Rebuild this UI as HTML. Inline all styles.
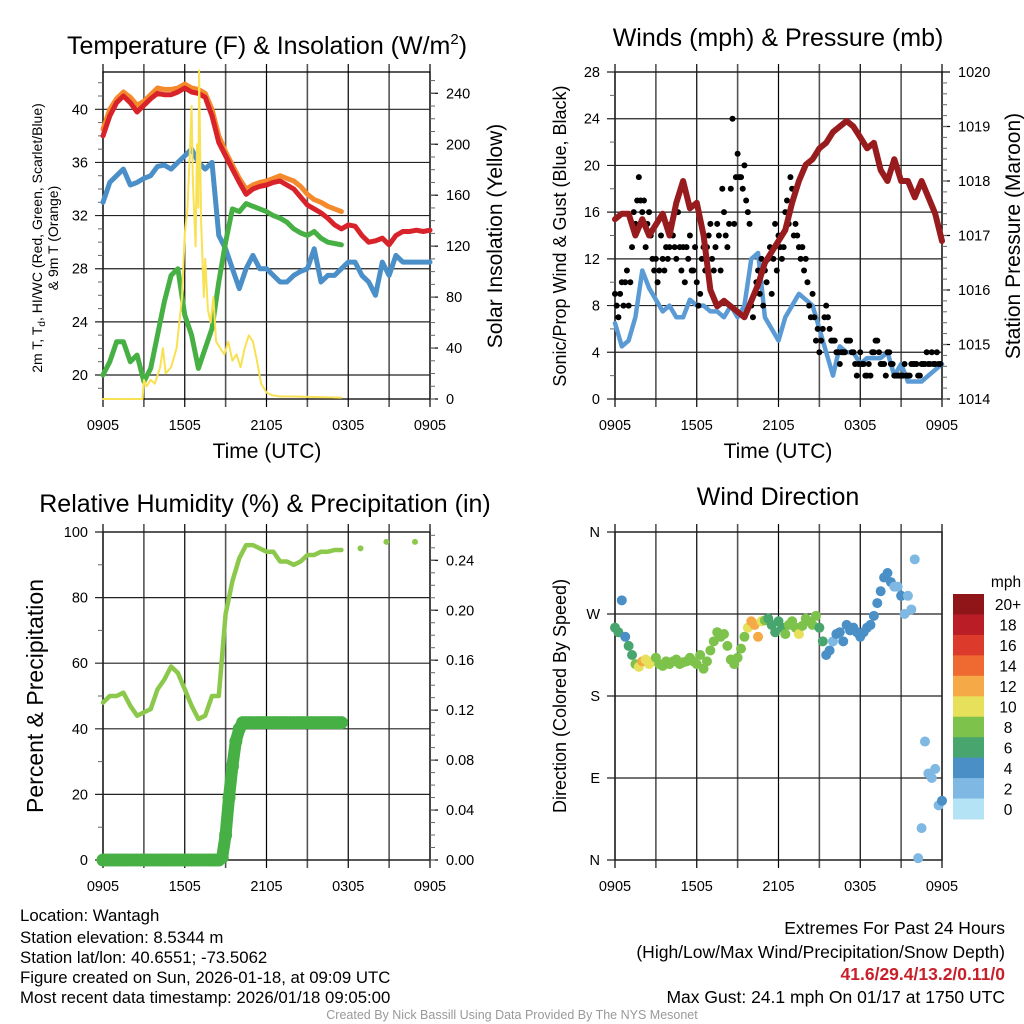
<!DOCTYPE html>
<html><head><meta charset="utf-8"><style>
html,body{margin:0;padding:0;background:#fff;}
svg{display:block;font-family:"Liberation Sans",sans-serif;}
</style></head><body>
<svg id="fig" width="1024" height="1024" viewBox="0 0 1024 1024" xmlns="http://www.w3.org/2000/svg">
<rect x="0" y="0" width="1024" height="1024" fill="#fff"/>
<text x="267" y="54" font-size="25" text-anchor="middle">Temperature (F) &amp; Insolation (W/m<tspan font-size="15" dy="-10">2</tspan><tspan dy="10">)</tspan></text>
<text x="778" y="46" font-size="25" text-anchor="middle">Winds (mph) &amp; Pressure (mb)</text>
<text x="265" y="512" font-size="25" text-anchor="middle">Relative Humidity (%) &amp; Precipitation (in)</text>
<text x="778" y="505" font-size="25" text-anchor="middle">Wind Direction</text>

<text x="267" y="458" font-size="21" text-anchor="middle">Time (UTC)</text>
<text x="778" y="458" font-size="21" text-anchor="middle">Time (UTC)</text>

<text transform="translate(42,238) rotate(-90)" font-size="14" text-anchor="middle">2m T, T<tspan font-size="10" dy="3">d</tspan><tspan dy="-3">, HI/WC (Red, Green, Scarlet/Blue)</tspan></text>
<text transform="translate(58,238) rotate(-90)" font-size="14" text-anchor="middle">&amp; 9m T (Orange)</text>
<text transform="translate(502,236) rotate(-90)" font-size="21" text-anchor="middle">Solar Insolation (Yellow)</text>
<text transform="translate(566,236) rotate(-90)" font-size="18" text-anchor="middle">Sonic/Prop Wind &amp; Gust (Blue, Black)</text>
<text transform="translate(1020,236) rotate(-90)" font-size="21" text-anchor="middle">Station Pressure (Maroon)</text>
<text transform="translate(43,696) rotate(-90)" font-size="23" text-anchor="middle">Percent &amp; Precipitation</text>
<text transform="translate(566,696) rotate(-90)" font-size="18" text-anchor="middle">Direction (Colored By Speed)</text>

<g font-size="16.8" fill="#000">
<text x="20" y="921">Location: Wantagh</text>
<text x="20" y="943">Station elevation: 8.5344 m</text>
<text x="20" y="963">Station lat/lon: 40.6551; -73.5062</text>
<text x="20" y="983">Figure created on Sun, 2026-01-18, at 09:09 UTC</text>
<text x="20" y="1003">Most recent data timestamp: 2026/01/18 09:05:00</text>
</g>
<g font-size="17.5" text-anchor="end">
<text x="1005" y="934">Extremes For Past 24 Hours</text>
<text x="1005" y="958">(High/Low/Max Wind/Precipitation/Snow Depth)</text>
<text x="1005" y="980" fill="#c8202a" font-weight="bold">41.6/29.4/13.2/0.11/0</text>
<text x="1005" y="1003">Max Gust: 24.1 mph On 01/17 at 1750 UTC</text>
</g>
<text x="512" y="1019" font-size="12.5" fill="#999" text-anchor="middle">Created By Nick Bassill Using Data Provided By The NYS Mesonet</text>
</svg>
<script>
// ---------- DATA ----------
const timeLabels = ["0905","1505","2105","0305","0905"];
// temperature panel (0.5 h step from 0905)
const tempRed = [38,39.5,40.5,41,40.5,39.8,40.3,40.8,41.2,41.1,41.1,41.3,41.6,41.3,41.2,40.9,39.5,37.5,36.5,35.5,34.5,33.6,34,34.2,34.3,34.5,34.6,34.3,34,33.4,32.8,32.5,32.2,31.8,31.3,31,31.3,31.2,30.5,30,30.1,30.3,29.8,30.5,30.8,30.8,30.9,30.8,30.9];
const tempOrange = [38.5,40,40.8,41.3,40.9,40.3,40.6,41.1,41.6,41.5,41.5,41.6,41.9,41.6,41.5,41.2,40,38,36.8,35.8,34.8,34,34.3,34.5,34.6,34.8,35,34.8,34.6,34.2,33.6,33.2,33,32.7,32.5,32.3];
const dewGreen = [20,21,22.5,22.5,21,21.5,19.5,20.5,23,25.5,27.5,28,24.5,23,20.5,22,23.5,27,30,32.5,32.3,32.9,32.7,32.5,32.3,32,31.8,31.5,31,30.7,30.5,30.8,30.3,30,29.9,29.8];
const chillBlue = [33,34.5,35,35.5,34.3,34.5,34.8,35,35.7,35.8,35.5,36,36.5,37,36,35.5,36,30.5,29.5,28,26.5,28,29,28,28,27.5,27,27,27.5,27.8,28,29.5,27,27.5,27.5,28,28.5,28.5,27.5,27,26,28.5,27.5,29,28.5,28.5,28.5,28.5,28.5];
const insolTimes = [0,2.9,3.0,3.2,3.5,3.8,4.2,4.4,4.6,5.0,5.4,5.6,5.8,6.0,6.2,6.4,6.5,6.6,6.8,6.9,7.0,7.05,7.2,7.4,7.5,7.7,7.9,8.1,8.3,8.6,8.9,9.2,9.5,9.8,10.1,10.4,10.7,11.0,11.3,11.6,12.0,12.4,13.0,14,17.5];
const insolValues = [0,0,15,10,15,12,25,40,20,25,40,60,80,130,150,200,230,170,120,200,150,258,140,80,110,70,60,80,45,40,35,45,30,35,25,40,50,45,30,12,5,3,2,2,1];
const tempTicks = [20,24,28,32,36,40];
const insolTicks = [0,40,80,120,160,200,240];
// wind panel
const windSpeed = [6.5,4.5,5,7,11,9.5,8.5,7.5,8,7,7,8.5,8,8,7.5,7.5,7,8,7,8,12,12.5,7,6,5,7,8,9,8.5,8,6,4,2,4.5,4,4,3,3.5,3.5,3.5,4,2,3,1.5,1.5,1.5,2,2.5,3];
const windGust = [9,8,7,9,10,8,10,11, 8,10,13,16,15,17,19,17, 16,17,13,15,16,14,12,11, 12,10,11,14,12,11,13,12, 13,15,14,13,12,16,13,11, 13,10,13,12,14,11,11,13, 10,8,9,12,13,11,13,14, 15,12,11,13,15,14,11,18, 16,14,13,15,18,24,15,19, 21,19,19,18,20,17,16,15, 8,7,9,10,11,9,12,8, 11,10,12,13,9,12,15,11, 14,13,12,13,16,17,15,19, 18,14,15,14,13,12,13,11, 12,10,8,7,9,7,5,6, 4,5,6,7,8,7,6,5, 5,5,4,4,3,4,4,4, 5,5,5,4,4,3,2,3, 4,3,3,2,2,3,2,4, 4,5,5,4,3,3,3,2, 4,4,3,3,2,2,2,2, 2,2,3,2,2,2,3,3, 3,3,2,2,3,3,3,4, 3,3,4,3,3,4,3,3];
const pressure = [1017.3,1017.4,1017.4,1017.0,1017.3,1017.0,1017.2,1017.4,1017.0,1017.6,1018.0,1017.5,1017.6,1017.0,1016.0,1015.7,1015.8,1015.7,1015.6,1015.5,1015.8,1016.1,1016.5,1016.7,1016.9,1017.1,1017.6,1018.0,1018.3,1018.4,1018.6,1018.7,1018.9,1019.0,1019.1,1019.0,1018.8,1018.6,1018.7,1018.2,1018.0,1018.4,1018.0,1018.0,1017.7,1018.0,1017.7,1017.4,1016.9];
const windTicks = [0,4,8,12,16,20,24,28];
const pressTicks = [1014,1015,1016,1017,1018,1019,1020];
// RH / precip panel
const rhValues = [48,50,50,51,47,44,45,46,52,55,59,57,52,47,43,44,50,50,75,85,92,96,96,95,94,94,91,91,90,91,93,93,94,94,94.5,94.5];
const rhDotTimes = [18.9,20.8,22.9];
const rhDotValues = [95,97,97];
const precipValues = [0,0,0,0,0,0,0,0,0,0,0,0,0,0,0,0,0,0,0,0,0,0,0,0,0,0,0,0,0,0,0,0,0,0,0,0.002,0.02,0.05,0.075,0.095,0.105,0.11,0.11,0.11,0.11,0.11,0.11,0.11,0.11,0.11,0.11,0.11,0.11,0.11,0.11,0.11,0.11,0.11,0.11,0.11,0.11,0.11,0.11,0.11,0.11,0.11,0.11,0.11,0.11,0.11,0.11];
const rhTicks = [0,20,40,60,80,100];
const precipTicks = [0,0.04,0.08,0.12,0.16,0.20,0.24];
// direction panel (0.25 h step)
const windDir = [255,250,285,245,235,225,215,212,218,220,215,218,222,215,213,218,215,218,220,215,217,218,222,218,215,225,210,218,230,240,250,245,248,235,220,215,222,232,245,255,262,258,245,262,263,265,258,250,262,255,248,258,262,255,248,257,265,262,258,268,255,240,225,230,240,248,250,240,258,252,255,250,245,250,255,258,268,282,295,310,315,305,300,300,290,270,290,275,330,2,35,130,95,90,100,60,65];
const dirTicks = [0,90,180,270,360];
const dirLabels = ["N","E","S","W","N"];
const speedBins = ["0","2","4","6","8","10","12","14","16","18","20+"];
const speedColors = ["#b5e3f6","#7fb9e3","#4a8fc6","#48a56e","#7dc24b","#e6e05a","#f6a947","#ef6a30","#dc3a2b","#bb1d26","#8f1519"];

// ---------- HELPERS ----------
const NS = "http://www.w3.org/2000/svg";
const fig = document.getElementById("fig");
function el(tag, attrs, parent){ const e=document.createElementNS(NS,tag); for(const k in attrs) e.setAttribute(k,attrs[k]); (parent||fig).appendChild(e); return e; }
function lin(d0,d1,r0,r1){ return v => r0 + (v-d0)/(d1-d0)*(r1-r0); }
const P1={x0:103,x1:430,y0:72,y1:399}, P2={x0:615,x1:942,y0:72,y1:399}, P3={x0:103,x1:430,y0:532,y1:860}, P4={x0:615,x1:942,y0:532,y1:860};

function frame(P, name){
  const g = el("g",{});
  
  
  for(let h=0; h<=24; h+=3){
    const x = P.x0 + h/24*(P.x1-P.x0);
    const ln = el("line",{x1:x,x2:x,y1:P.y0-8,y2:P.y1+8,stroke:(h%6===0)?"#000":"#555","stroke-width":(h%6===0)?1.2:1.6},g);
    
    
    if(h%6===0){
      const t = el("text",{x:x,y:P.y1+31,"font-size":14.5,"text-anchor":"middle"},g);
      t.textContent = timeLabels[h/6];
      
      
    }
  }
  const r = el("rect",{x:P.x0,y:P.y0,width:P.x1-P.x0,height:P.y1-P.y0,fill:"none",stroke:"#000","stroke-width":1.3},g);
  
  
}
function leftAxis(P, ticks, sy, labels, minor, name){
  const g = el("g",{});
  
  
  ticks.forEach((v,i)=>{
    const y = sy(v);
    const ln = el("line",{x1:P.x0-8,x2:P.x1,y1:y,y2:y,stroke:"#222","stroke-width":1.2},g);
    
    
    const t = el("text",{x:P.x0-15,y:y+5,"font-size":14.5,"text-anchor":"end"},g);
    t.textContent = labels ? labels[i] : String(v);
    
    
  });
  (minor||[]).forEach(v=>{ const y=sy(v); if(y>=P.y0&&y<=P.y1) el("line",{x1:P.x0-5,x2:P.x0,y1:y,y2:y,stroke:"#666","stroke-width":1},g); });
}
function rightAxis(P, ticks, sy, fmt, minorStep, name){
  const g = el("g",{});
  
  
  ticks.forEach(v=>{
    const y = sy(v);
    el("line",{x1:P.x1,x2:P.x1+8,y1:y,y2:y,stroke:"#000","stroke-width":1.2},g);
    const t = el("text",{x:P.x1+16,y:y+5,"font-size":14.5},g);
    t.textContent = fmt(v);
    
    
  });
  const a = ticks[0], b = ticks[ticks.length-1];
  for(let v=a-minorStep*4; v<=b+minorStep*4; v+=minorStep){ const y=sy(v); if(y>=P.y0&&y<=P.y1) el("line",{x1:P.x1,x2:P.x1+5,y1:y,y2:y,stroke:"#666","stroke-width":1},g); }
}
function pts(times, vals, sx, sy){ return vals.map((v,i)=>sx(times[i]).toFixed(1)+","+sy(v).toFixed(1)).join(" "); }
function stepTimes(n, step){ return Array.from({length:n},(_, i)=>i*step); }
function drawLine(times, vals, sx, sy, color, w, name){
  const p = el("polyline",{points:pts(times,vals,sx,sy),fill:"none",stroke:color,"stroke-width":w,"stroke-linejoin":"round","stroke-linecap":"round"});
  
  
  return p;
}

// ---------- PANEL 1 ----------
frame(P1,"temp-panel");
const sx1 = lin(0,24,P1.x0,P1.x1);
const syT = lin(20,40,375,109.3);
const syI = lin(0,240,399,93.3);
leftAxis(P1,tempTicks,syT,null,[19,21,22,23,25,26,27,29,30,31,33,34,35,37,38,39,41,42],"temp-left-axis");
rightAxis(P1,insolTicks,syI,v=>String(v),10,"insolation-right-axis");
drawLine(stepTimes(chillBlue.length,0.5),chillBlue,sx1,syT,"#4a8fc8",5,"wind-chill-line");
drawLine(stepTimes(dewGreen.length,0.5),dewGreen,sx1,syT,"#46b044",5,"dewpoint-line");
drawLine(stepTimes(tempOrange.length,0.5),tempOrange,sx1,syT,"#f58a2c",5,"temp-9m-line");
drawLine(stepTimes(tempRed.length,0.5),tempRed,sx1,syT,"#d8232a",5,"temp-2m-line");
drawLine(insolTimes,insolValues,sx1,syI,"#f9e154",2,"insolation-line");

// ---------- PANEL 2 ----------
frame(P2,"wind-panel");
const sx2 = lin(0,24,P2.x0,P2.x1);
const syW = lin(0,28,399,72);
const syP = lin(1014,1020,399,72);
leftAxis(P2,windTicks,syW,null,[2,6,10,14,18,22,26],"wind-left-axis");
rightAxis(P2,pressTicks,syP,v=>String(v),0.2,"pressure-right-axis");
drawLine(stepTimes(windSpeed.length,0.5),windSpeed,sx2,syW,"#5b9bd5",4.5,"wind-speed-line");
windGust.forEach((v,i)=>{
  const c = el("circle",{cx:sx2(i*0.125),cy:syW(v),r:3,fill:"#000"});
  
  
});
drawLine(stepTimes(pressure.length,0.5),pressure,sx2,syP,"#981b1e",6,"pressure-line");

// ---------- PANEL 3 ----------
frame(P3,"rh-panel");
const sx3 = lin(0,24,P3.x0,P3.x1);
const syR = lin(0,100,860,532);
const syPr = lin(0,0.24,860,560.3);
leftAxis(P3,rhTicks,syR,null,[10,30,50,70,90],"rh-left-axis");
rightAxis(P3,precipTicks,syPr,v=>v.toFixed(2),0.01,"precip-right-axis");
drawLine(stepTimes(rhValues.length,0.5),rhValues,sx3,syR,"#8cc84b",4.5,"rh-line");
rhDotTimes.forEach((t,i)=>{
  const c = el("circle",{cx:sx3(t),cy:syR(rhDotValues[i]),r:3,fill:"#8cc84b"});
  
  
});
drawLine(stepTimes(precipValues.length,0.25),precipValues,sx3,syPr,"#46b044",12,"precip-line");
precipValues.forEach((v,i)=>{
  const c = el("circle",{cx:sx3(i*0.25),cy:syPr(v),r:6.5,fill:"#46b044"});
  
  
});

// ---------- PANEL 4 ----------
frame(P4,"direction-panel");
const sx4 = lin(0,24,P4.x0,P4.x1);
const syD = lin(0,360,860,532);
leftAxis(P4,dirTicks,syD,dirLabels,[],"direction-left-axis");
function speedAt(t){ const i=Math.min(Math.floor(t/0.5),windSpeed.length-2); const f=t/0.5-i; return windSpeed[i]*(1-f)+windSpeed[i+1]*f; }
windDir.forEach((d,i)=>{
  if(d===null) return;
  const t=i*0.25;
  const bin = Math.max(0,Math.min(10,Math.round(speedAt(t)/2)));
  const c = el("circle",{cx:sx4(t),cy:syD(d),r:5,fill:speedColors[bin]});
  
  
});
// colorbar
const cb = el("g",{});


const cbTop=594, cbH=225/11;
speedBins.forEach((lab,k)=>{
  const idx = speedBins.length-1-k;
  const r = el("rect",{x:953,y:cbTop+k*cbH,width:31,height:cbH+0.5,fill:speedColors[idx]},cb);
  
  
  const t = el("text",{x:1008,y:cbTop+k*cbH+cbH/2+6,"font-size":15.5,"text-anchor":"middle"},cb);
  t.textContent = speedBins[idx];
  
  
});
const mph = el("text",{x:1006,y:587,"font-size":15.5,"text-anchor":"middle"},cb);
mph.textContent = "mph";


</script>
</body></html>
